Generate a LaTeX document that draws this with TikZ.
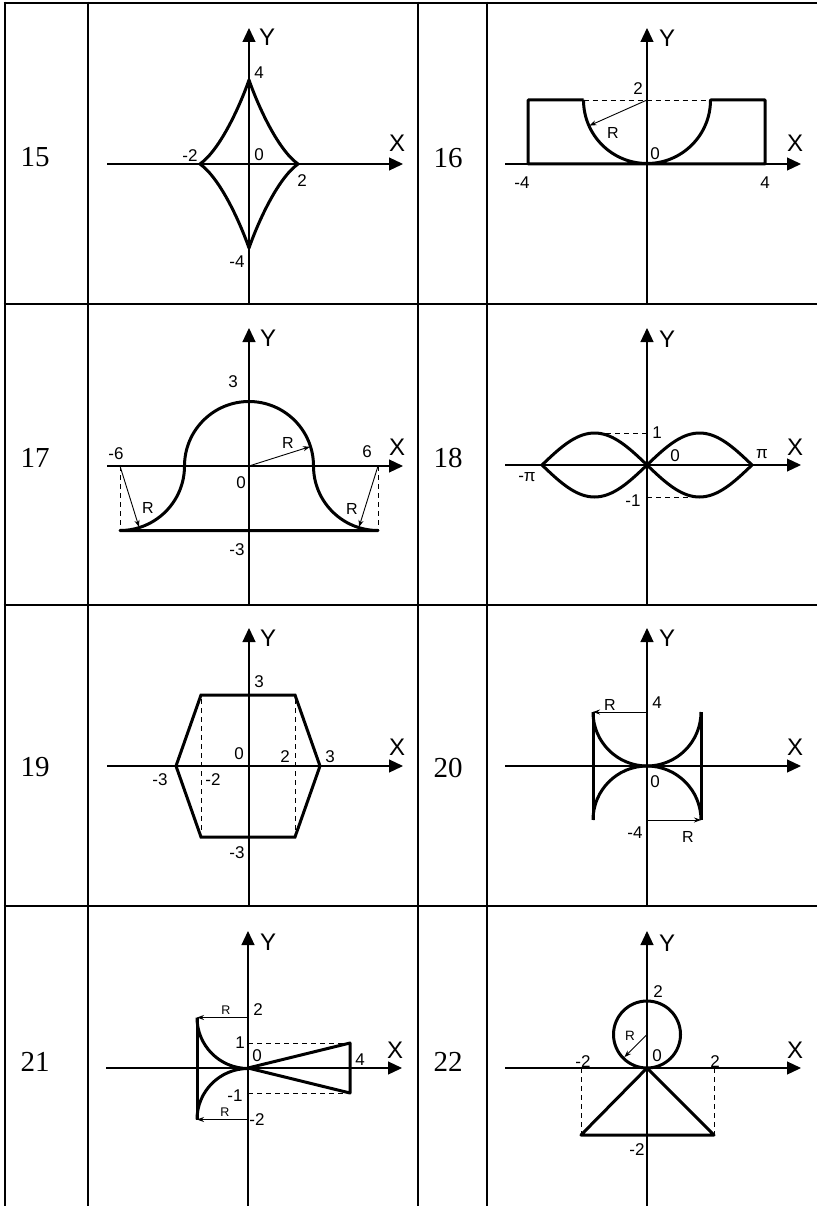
\documentclass[tikz,border=0pt]{standalone}
\usepackage{fontspec}
\setmainfont{Liberation Serif}
\newfontfamily\labfont{Liberation Sans}
\usetikzlibrary{arrows.meta}
\tikzset{
  tbl/.style={line width=2.6pt},
  tblthin/.style={line width=1.3pt},
  axisline/.style={line width=1.2pt,-{Triangle[length=14pt,width=13pt]}},
  curve/.style={line width=3pt,line join=round},
  dsh/.style={line width=0.9pt,dash pattern=on 5pt off 4pt},
  rarr/.style={line width=0.9pt,-{Stealth[length=7pt,width=5pt]}},
  lab/.style={font=\labfont\fontsize{17}{17}\selectfont,inner sep=0pt},
  smalllab/.style={font=\labfont\fontsize{12.5}{12.5}\selectfont,inner sep=0pt},
  rlab/.style={font=\labfont\fontsize{16}{16}\selectfont,inner sep=0pt},
  axl/.style={font=\labfont\fontsize{24}{24}\selectfont,inner sep=0pt},
  num/.style={font=\fontsize{29}{29}\selectfont,inner sep=0pt},
}
\newcommand\LB[4]{\node[lab] (#1) at (#2,-#3) {#4};}
\begin{document}
\begin{tikzpicture}[x=1pt,y=1pt]
\useasboundingbox (0,0) rectangle (817,-1206);
% ---------- table ----------
\draw[tbl] (3.7,-3) -- (817,-3);
\foreach \xx in {5,88,418,487} \draw[tbl] (\xx,-1.7) -- (\xx,-1206);
\foreach \yy in {304,605} {
  \draw[tbl] (3.7,-\yy) -- (105,-\yy);
  \draw[tbl] (405,-\yy) -- (505,-\yy);
  \draw[tbl] (803,-\yy) -- (817,-\yy);
  \draw[tblthin] (105,-\yy) -- (405,-\yy);
  \draw[tblthin] (505,-\yy) -- (803,-\yy);
}
\draw[tbl] (3.7,-906) -- (817,-906);
% row numbers
\node[num] (n15) at (35,-157) {15};
\node[num] (n16) at (448,-158) {16};
\node[num] (n17) at (35,-458) {17};
\node[num] (n18) at (448,-458) {18};
\node[num] (n19) at (35,-767) {19};
\node[num] (n20) at (448,-768) {20};
\node[num] (n21) at (35,-1062) {21};
\node[num] (n22) at (448,-1062) {22};
% ---------- axes ----------
\foreach \ox/\oy/\yt/\yb in {249/164/28/304, 647/164/28/304, 249/466/328/605, 647/465/328/605, 249/766/628/906, 647/766/628/906, 248/1068/931/1206, 647/1068/931/1206} {
  \draw[axisline] (\ox-142,-\oy) -- (\ox+154,-\oy);
  \draw[axisline] (\ox,-\yb) -- (\ox,-\yt);
}
% ---------- 15 ----------
\draw[curve] (249,-80) .. controls (257,-103) and (277,-149) .. (298,-164)
  .. controls (277,-179) and (257,-225) .. (249,-248)
  .. controls (241,-225) and (221,-179) .. (200,-164)
  .. controls (221,-149) and (241,-103) .. (249,-80) -- cycle;
\node[axl] (y15) at (267,-37) {Y};
\node[axl] (x15) at (397,-143) {X};
\LB{a15}{259}{73}{4}
\LB{b15}{190}{156}{-2}
\LB{c15}{259}{155}{0}
\LB{d15}{302}{181}{2}
\LB{e15}{237}{262}{-4}
% ---------- 16 ----------
\draw[curve] (583.5,-100) -- (528,-100) -- (528,-164) -- (765,-164) -- (765,-100) -- (710.5,-100)
  arc[start angle=0,end angle=-180,radius=63.5];
\draw[dsh] (583.5,-100) -- (710.5,-100);
\coordinate (c16) at (647,-100);
\draw[rarr] (c16) -- ++(204:63pt);
\node[axl] (y16) at (667,-38) {Y};
\node[axl] (x16) at (795,-143) {X};
\LB{a16}{638}{89}{2}
\node[rlab] (r16) at (613,-133) {R};
\LB{b16}{655}{154}{0}
\LB{c16l}{522}{183}{-4}
\LB{d16}{765}{183}{4}
% ---------- 17 ----------
\draw[curve] (120,-530.5) arc[start angle=270,end angle=360,radius=64.5]
  arc[start angle=180,end angle=0,radius=64.5]
  arc[start angle=180,end angle=270,radius=64.5] -- cycle;
\draw[dsh] (120,-466) -- (120,-530.5);
\draw[dsh] (378,-466) -- (378,-530.5);
\coordinate (o17) at (249,-466);
\coordinate (l17) at (120,-466);
\coordinate (r17) at (378,-466);
\draw[rarr] (o17) -- ++(17.6:64pt);
\draw[rarr] (l17) -- ++(-72.7:64pt);
\draw[rarr] (r17) -- ++(252.7:64pt);
\node[axl] (y17) at (268,-338) {Y};
\node[axl] (x17) at (397,-447) {X};
\LB{a17}{233}{382}{3}
\node[rlab] (ra17) at (288,-443) {R};
\LB{b17}{116}{454}{-6}
\LB{c17}{367}{452}{6}
\LB{d17}{241}{483}{0}
\node[rlab] (rb17) at (148,-508) {R};
\node[rlab] (rc17) at (352,-509) {R};
\LB{e17}{237}{550}{-3}
% ---------- 18 ----------
\draw[curve] plot[domain=-180:180,samples=73] ({647+\x/180*105},{-465+32*sin(\x)});
\draw[curve] plot[domain=-180:180,samples=73] ({647+\x/180*105},{-465-32*sin(\x)});
\draw[dsh] (597,-433) -- (647,-433);
\draw[dsh] (647,-497) -- (697,-497);
\node[axl] (y18) at (667,-339) {Y};
\node[axl] (x18) at (795,-447) {X};
\LB{a18}{657}{433}{1}
\LB{b18}{675}{456}{0}
\LB{c18}{762}{454}{π}
\LB{d18}{527}{477}{-π}
\LB{e18}{633}{501}{-1}
% ---------- 19 ----------
\draw[curve,line join=miter] (176,-766) -- (201,-695) -- (295,-695) -- (320,-766) -- (295,-837) -- (201,-837) -- cycle;
\draw[dsh] (201,-699) -- (201,-833);
\draw[dsh] (295,-699) -- (295,-833);
\node[axl] (y19) at (268,-638) {Y};
\node[axl] (x19) at (397,-747) {X};
\LB{a19}{259}{682}{3}
\LB{b19}{239}{754}{0}
\LB{c19}{285}{757}{2}
\LB{d19}{330}{757}{3}
\LB{e19}{160}{780}{-3}
\LB{f19}{213}{780}{-2}
\LB{g19}{237}{853}{-3}
% ---------- 20 ----------
\draw[curve] (593,-712) -- (593,-820);
\draw[curve] (701,-712) -- (701,-820);
\draw[curve] (593,-712) arc[start angle=180,end angle=360,radius=54];
\draw[curve] (593,-820) arc[start angle=180,end angle=0,radius=54];
\coordinate (t20) at (647,-712);
\coordinate (tl20) at (593,-712);
\coordinate (b20) at (647,-820);
\coordinate (br20) at (701,-820);
\draw[rarr] (t20) -- (tl20);
\draw[rarr] (b20) -- (br20);
\node[axl] (y20) at (667,-638) {Y};
\node[axl] (x20) at (795,-747) {X};
\node[rlab] (ra20) at (610,-705) {R};
\LB{a20}{657}{703}{4}
\LB{b20l}{655}{782}{0}
\LB{c20}{635}{833}{-4}
\node[rlab] (rb20) at (688,-837) {R};
% ---------- 21 ----------
\draw[curve] (197,-1017.5) -- (197,-1119.5);
\draw[curve] (197,-1017.5) arc[start angle=180,end angle=270,radius=51];
\draw[curve] (197,-1119.5) arc[start angle=180,end angle=90,radius=51];
\draw[curve] (248,-1068) -- (350,-1043) -- (350,-1093) -- cycle;
\draw[dsh] (248,-1043) -- (350,-1043);
\draw[dsh] (248,-1093) -- (350,-1093);
\coordinate (t21) at (248,-1017.5);
\coordinate (tl21) at (197,-1017.5);
\coordinate (b21) at (248,-1119.5);
\coordinate (bl21) at (197,-1119.5);
\draw[rarr] (t21) -- (tl21);
\draw[rarr] (b21) -- (bl21);
\node[axl] (y21) at (268,-942) {Y};
\node[axl] (x21) at (395,-1050) {X};
\node[smalllab] (ra21) at (226,-1010) {R};
\LB{a21}{258}{1010}{2}
\LB{b21}{240}{1043}{1}
\LB{c21}{257}{1056}{0}
\LB{d21}{360}{1060}{4}
\LB{e21}{235}{1096}{-1}
\node[smalllab] (rb21) at (225,-1112) {R};
\LB{f21}{257}{1120}{-2}
% ---------- 22 ----------
\draw[curve] (647,-1034.5) circle[radius=33.5];
\draw[curve] (647,-1068) -- (581,-1135) -- (714,-1135) -- cycle;
\draw[dsh] (581,-1068) -- (581,-1135);
\draw[dsh] (714,-1068) -- (714,-1135);
\coordinate (o22) at (647,-1034.5);
\draw[rarr] (o22) -- ++(225:32pt);
\node[axl] (y22) at (667,-943) {Y};
\node[axl] (x22) at (795,-1050) {X};
\LB{a22}{658}{992}{2}
\node[smalllab,font=\labfont\fontsize{13.5}{13.5}\selectfont] (r22) at (630,-1036) {R};
\LB{b22}{657}{1056}{0}
\LB{c22}{583}{1062}{-2}
\LB{d22}{715}{1062}{2}
\LB{e22}{637}{1150}{-2}
\end{tikzpicture}
\end{document}
